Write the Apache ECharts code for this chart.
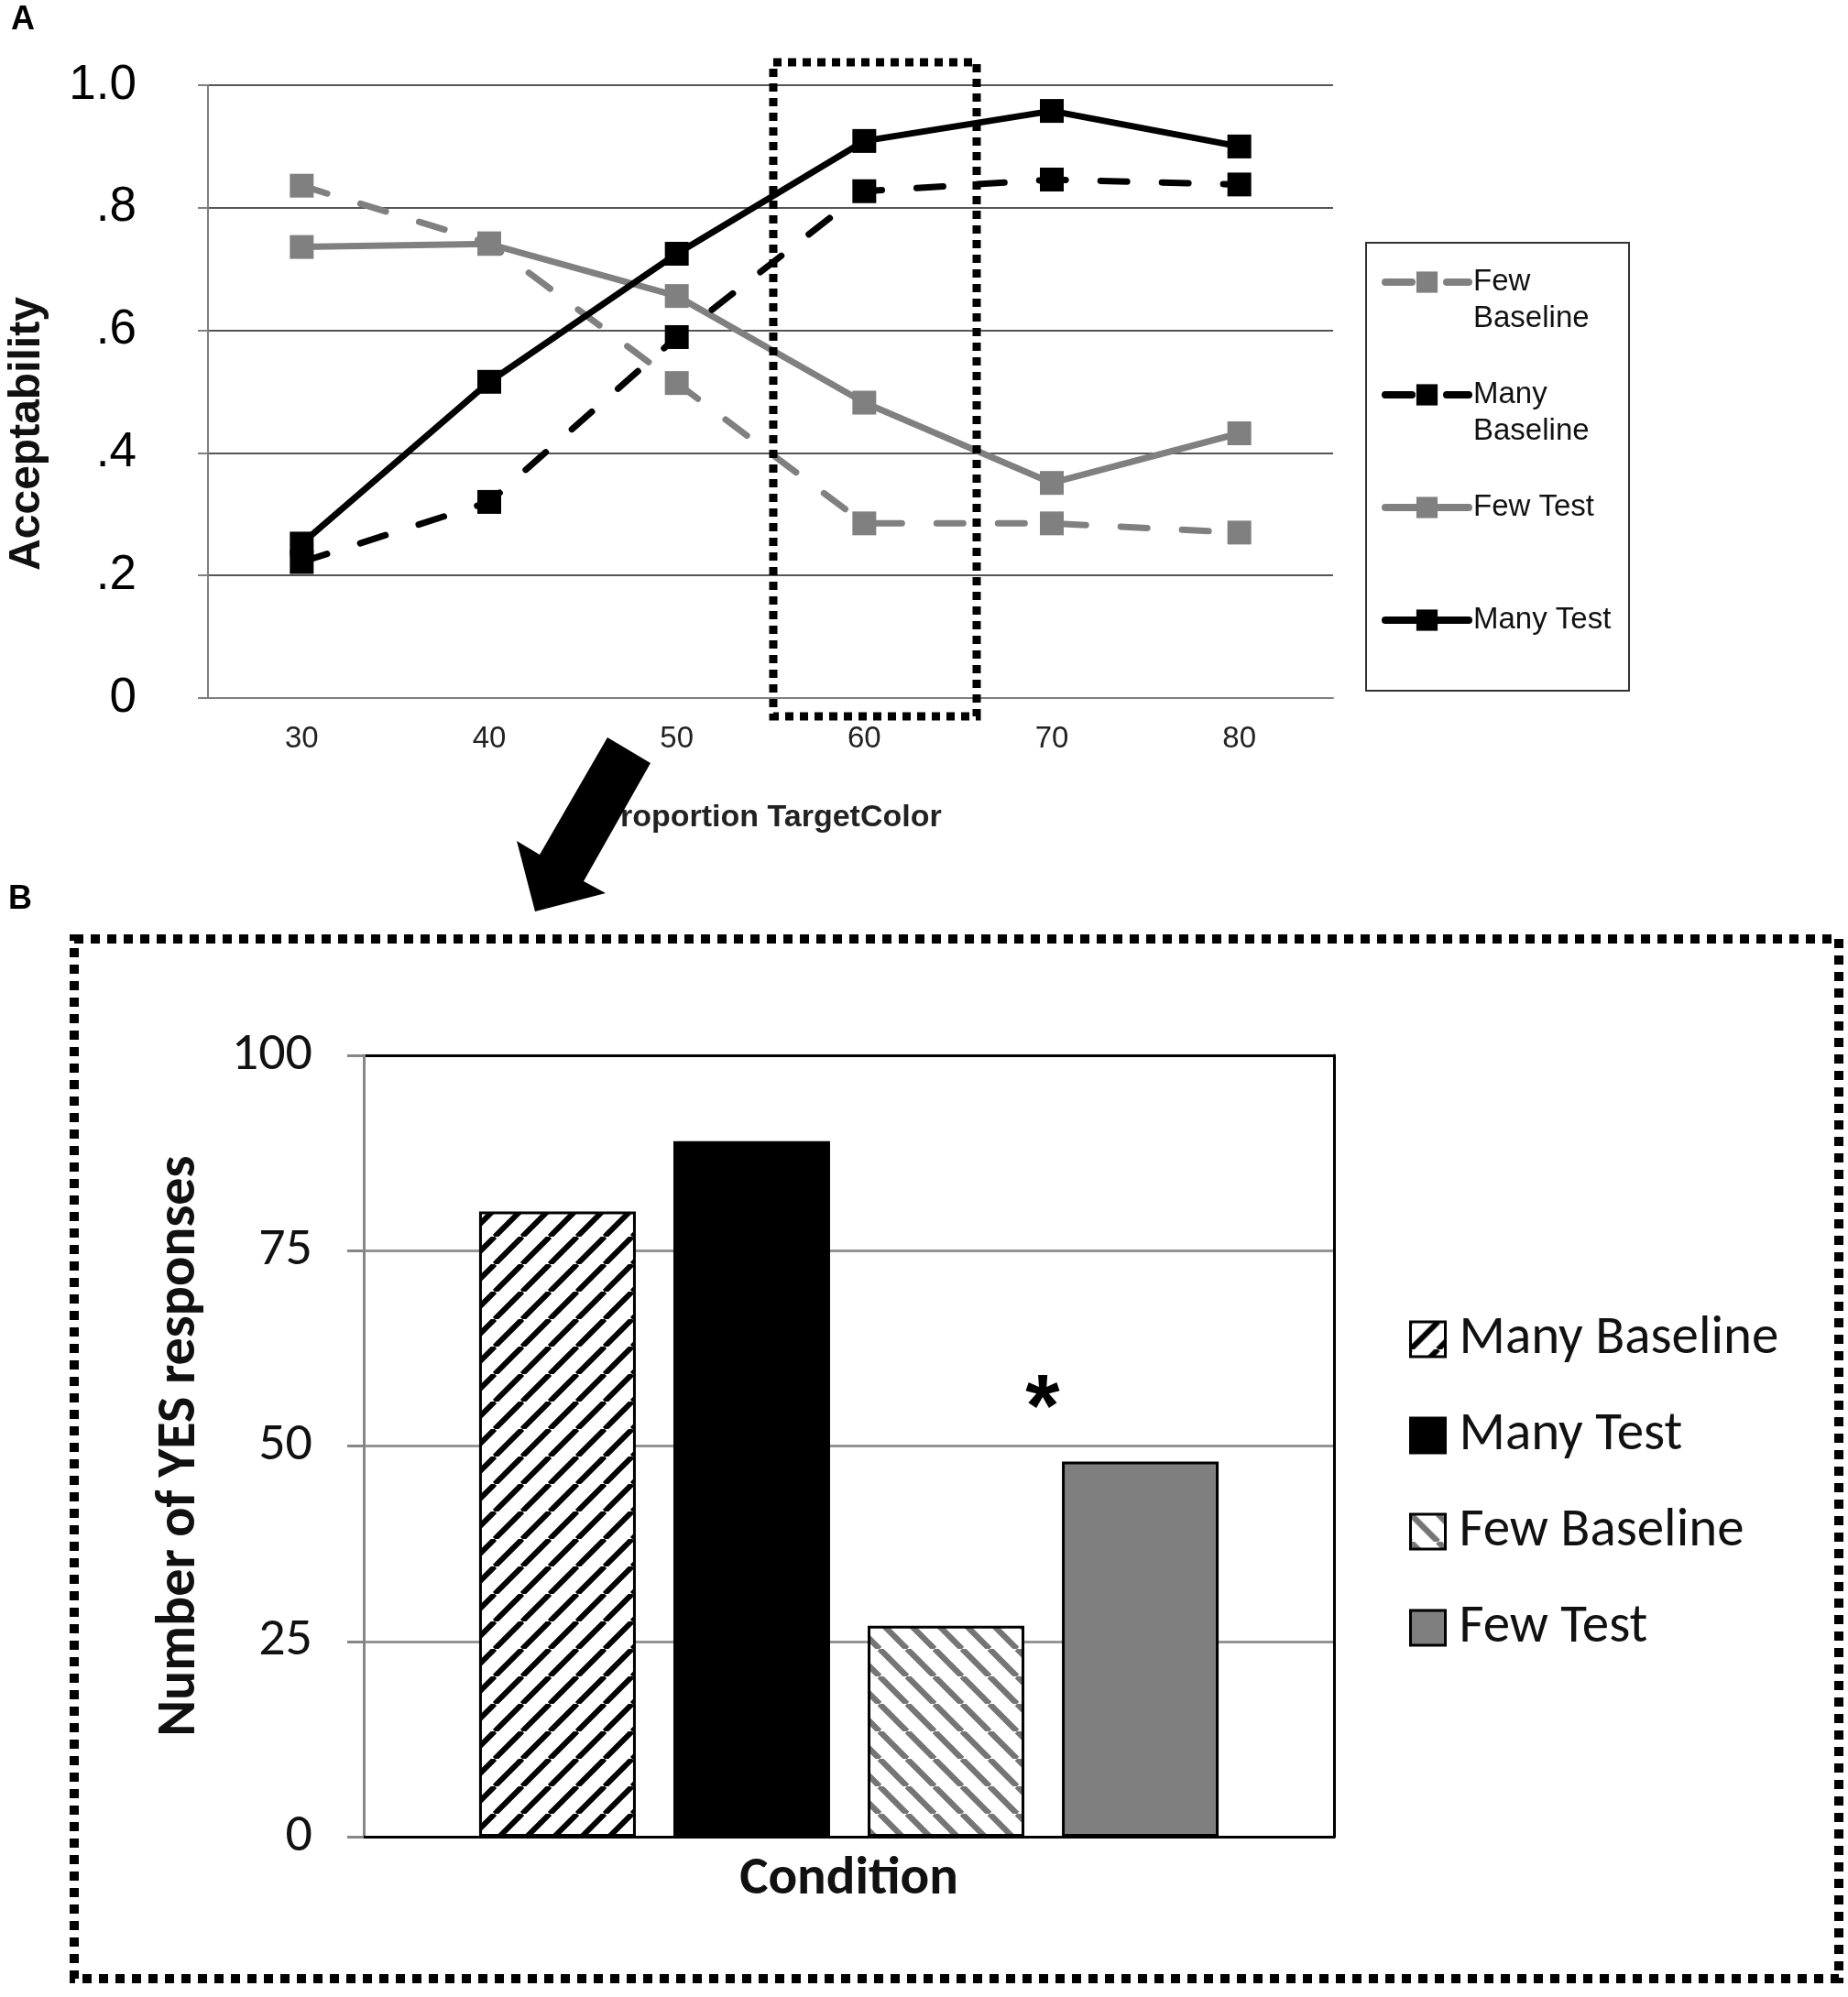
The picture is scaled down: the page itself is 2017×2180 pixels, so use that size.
<!DOCTYPE html>
<html lang="en">
<head>
<meta charset="UTF-8">
<title>Acceptability / YES responses</title>
<script src="https://cdn.jsdelivr.net/npm/echarts@6/dist/echarts.min.js"></script>
<style>
	html, body { margin: 0; padding: 0; background: #fff; }
	#main { width: 2017px; height: 2180px; }
</style>
</head>
<body>
<div id="main"></div>
<script type="text/javascript">
	// panel A: acceptability by proportion of target colour
	var proportions = ['30', '40', '50', '60', '70', '80'];
	var fewBaseline  = [0.836, 0.742, 0.514, 0.285, 0.285, 0.270];
	var manyBaseline = [0.222, 0.320, 0.589, 0.827, 0.846, 0.838];
	var fewTest      = [0.736, 0.741, 0.656, 0.482, 0.351, 0.432];
	var manyTest     = [0.252, 0.516, 0.725, 0.909, 0.958, 0.900];
	var lineNames = ['Few Baseline', 'Many Baseline', 'Few Test', 'Many Test'];

	// panel B: number of YES responses at 60%
	var barNames = ['Many Baseline', 'Many Test', 'Few Baseline', 'Few Test'];
	var yesCounts = [80, 89, 27, 48];

	var fontA = '"Liberation Sans", Arial, sans-serif';
	var fontB = 'Carlito, Lato, sans-serif';
	var grey = '#808080';

	// diagonal hatch tile, dir 1 = "/", dir -1 = "\"
	function hatch(color, dir, w) {
		var p = 30;
		var c = document.createElement('canvas');
		c.width = p; c.height = p;
		var ctx = c.getContext('2d');
		ctx.fillStyle = '#fff';
		ctx.fillRect(0, 0, p, p);
		ctx.strokeStyle = color;
		ctx.lineWidth = w;
		ctx.beginPath();
		for (var k = -1; k <= 1; k++) {
			if (dir > 0) { ctx.moveTo(k * p, p); ctx.lineTo(k * p + p, 0); }
			else { ctx.moveTo(k * p, 0); ctx.lineTo(k * p + p, p); }
		}
		ctx.stroke();
		return {image: c, repeat: 'repeat'};
	}

	var barFills = [hatch('#000', 1, 6), '#000', hatch('#757575', -1, 6.5), '#7f7f7f'];

	function lineSeries(name, data, color, dashed) {
		return {
			name: name,
			type: 'line',
			xAxisIndex: 0,
			yAxisIndex: 0,
			data: data,
			symbol: 'rect',
			symbolSize: 26,
			lineStyle: {color: color, width: 7, type: dashed ? [29, 38] : 'solid', cap: 'round'},
			itemStyle: {color: color}
		};
	}

	var series = [
		lineSeries('Few Baseline', fewBaseline, grey, true),
		lineSeries('Few Test', fewTest, grey, false),
		lineSeries('Many Baseline', manyBaseline, '#000', true),
		lineSeries('Many Test', manyTest, '#000', false)
	];
	for (var i = 0; i < barNames.length; i++) {
		series.push({
			name: 'bar:' + barNames[i],
			type: 'bar',
			xAxisIndex: 1,
			yAxisIndex: 1,
			data: [yesCounts[i]],
			barWidth: 171,
			barGap: '24%',
			itemStyle: {color: barFills[i], borderColor: '#000', borderWidth: 3}
		});
	}

	var dom = document.getElementById('main');
	var myChart = echarts.init(dom);

	var option = {
		animation: false,
		backgroundColor: '#fff',
		textStyle: {fontFamily: fontA},
		grid: [
			{left: 227, top: 93, width: 1228, height: 669, outerBoundsMode: 'none'},
			{left: 397, top: 1152, width: 1059, height: 853, outerBoundsMode: 'none'}
		],
		legend: [
			{
				orient: 'vertical',
				left: 1508,
				top: 248,
				padding: 0,
				itemGap: 3,
				itemWidth: 91,
				itemHeight: 29,
				data: lineNames,
				lineStyle: {width: 8, cap: 'round'},
				formatter: function (name) {
					if (name.indexOf('Baseline') > 0) {
						return ' \n' + name.replace(' ', '\n');
					}
					return ' \n' + name + '\n ';
				},
				textStyle: {fontFamily: fontA, fontSize: 33, lineHeight: 40, color: '#111', backgroundColor: 'rgba(0,0,0,0)'}
			},
			{
				orient: 'vertical',
				left: 1538,
				top: 1430,
				padding: 0,
				itemGap: 41,
				itemWidth: 38,
				itemHeight: 38,
				icon: 'rect',
				data: barNames.map(function (n) { return 'bar:' + n; }),
				formatter: function (name) { return name.replace('bar:', ''); },
				itemStyle: {borderColor: '#000', borderWidth: 3},
				textStyle: {fontFamily: fontB, fontSize: 59, lineHeight: 64, color: '#111', padding: [0, 0, 0, 10], backgroundColor: 'rgba(0,0,0,0)'}
			}
		],
		xAxis: [
			{
				gridIndex: 0,
				type: 'category',
				data: proportions,
				boundaryGap: true,
				axisLine: {lineStyle: {color: '#7f7f7f', width: 2}},
				axisTick: {length: 14, lineStyle: {color: '#7f7f7f', width: 2}},
				axisLabel: {fontFamily: fontA, fontSize: 33, color: '#222', margin: 28},
				splitLine: {show: false},
				name: 'Proportion TargetColor',
				nameLocation: 'middle',
				nameGap: 114,
				nameMoveOverlap: false,
				nameTextStyle: {fontFamily: fontA, fontSize: 34, fontWeight: 'bold', color: '#222'}
			},
			{
				gridIndex: 1,
				type: 'category',
				data: [''],
				axisLine: {lineStyle: {color: '#000', width: 3}},
				axisTick: {show: false},
				axisLabel: {show: false},
				splitLine: {show: false},
				name: 'Condition',
				nameLocation: 'middle',
				nameGap: 18,
				nameMoveOverlap: false,
				nameTextStyle: {fontFamily: fontB, fontSize: 59, fontWeight: 'bold', color: '#111'}
			}
		],
		yAxis: [
			{
				gridIndex: 0,
				type: 'value',
				min: 0,
				max: 1,
				interval: 0.2,
				axisLine: {show: true, lineStyle: {color: '#7f7f7f', width: 2}},
				axisTick: {show: true, length: 11, lineStyle: {color: '#7f7f7f', width: 2}},
				splitLine: {show: true, lineStyle: {color: '#555', width: 2}},
				axisLabel: {
					fontFamily: fontA, fontSize: 53, color: '#000', margin: 78,
					formatter: function (v) {
						if (v === 0) return '0';
						if (v > 0.999) return '1.0';
						return '.' + Math.round(v * 10);
					}
				},
				name: 'Acceptability',
				nameLocation: 'middle',
				nameGap: 173,
				nameMoveOverlap: false,
				nameTextStyle: {fontFamily: fontA, fontSize: 48, fontWeight: 'bold', color: '#111', padding: [0, 92, 0, 0]}
			},
			{
				gridIndex: 1,
				type: 'value',
				min: 0,
				max: 100,
				interval: 25,
				axisLine: {show: true, lineStyle: {color: '#868686', width: 3}},
				axisTick: {show: true, length: 18, lineStyle: {color: '#868686', width: 3}},
				splitLine: {show: true, lineStyle: {color: ['#000', '#959595', '#959595', '#959595', '#000'], width: 3}},
				axisLabel: {fontFamily: fontB, fontSize: 58, color: '#111', margin: 56},
				name: 'Number of YES responses',
				nameLocation: 'middle',
				nameGap: 170,
				nameMoveOverlap: false,
				nameTextStyle: {fontFamily: fontB, fontSize: 60, fontWeight: 'bold', color: '#111'}
			},
			{
				gridIndex: 1,
				type: 'value',
				position: 'right',
				min: 0,
				max: 100,
				interval: 25,
				axisLine: {show: true, lineStyle: {color: '#000', width: 3}},
				axisTick: {show: false},
				axisLabel: {show: false},
				splitLine: {show: false}
			}
		],
		graphic: [
			{type: 'text', x: 25, y: 22, z: 100, style: {text: 'A', font: 'bold 36px "Liberation Sans"', fill: '#000', align: 'center', verticalAlign: 'middle'}},
			{type: 'text', x: 22, y: 982, z: 100, style: {text: 'B', font: 'bold 36px "Liberation Sans"', fill: '#000', align: 'center', verticalAlign: 'middle'}},
			// legend frame of panel A
			{type: 'rect', z: 100, shape: {x: 1491, y: 265, width: 287, height: 489}, style: {fill: 'none', stroke: '#333', lineWidth: 2}},
			// dotted highlight around 60 and the frame of panel B
			{type: 'rect', z: 100, shape: {x: 844, y: 68, width: 222, height: 714}, style: {fill: 'none', stroke: '#000', lineWidth: 9, lineDash: [9, 7]}},
			{type: 'rect', z: 100, shape: {x: 81, y: 1025, width: 1926, height: 1135}, style: {fill: 'none', stroke: '#000', lineWidth: 10, lineDash: [10, 8]}},
			// arrow from panel A to panel B
			{type: 'polygon', z: 100, shape: {points: [[663, 805], [710, 833], [637, 962], [661, 975], [584, 995], [564, 918], [589, 933]]}, style: {fill: '#000'}},
			{type: 'text', x: 1138, y: 1541, z: 100, style: {text: '*', font: 'bold 96px "Liberation Sans"', fill: '#000', align: 'center', verticalAlign: 'middle'}}
		],
		series: series
	};

	if (option && typeof option === "object") {
		myChart.setOption(option, true);
	}
</script>
</body>
</html>
